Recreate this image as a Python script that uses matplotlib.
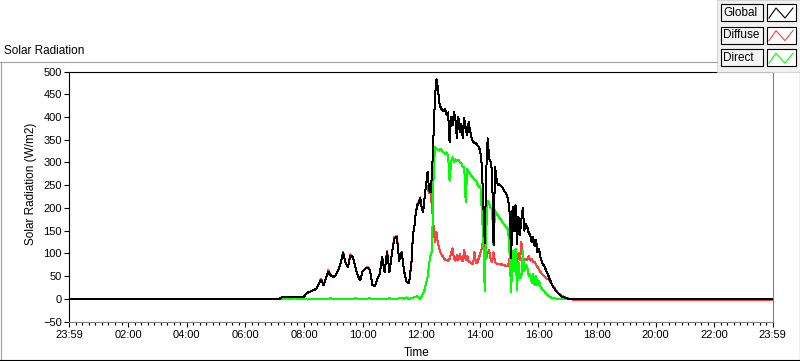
import numpy as np
import matplotlib
matplotlib.use('Agg')
import matplotlib.pyplot as plt
from matplotlib.patches import Rectangle
from matplotlib.lines import Line2D

plt.rcParams['font.family'] = ['Liberation Sans', 'DejaVu Sans']

# sample times in minutes after midnight
morning_min = np.arange(430, 701, 5)      # 07:10 .. 11:40
afternoon_min = np.arange(703, 1043, 3)   # 11:43 .. 17:22

global_morning = [0, 3, 4, 3, 4, 3, 4, 3, 5, 3,
                  5, 12, 15, 17, 19, 22, 32, 42, 30, 45,
                  60, 51, 48, 52, 62, 78, 100, 80, 70, 95,
                  92, 70, 51, 41, 60, 66, 68, 64, 30, 28,
                  43, 55, 91, 59, 103, 59, 100, 133, 136, 84,
                  102, 60, 37, 34, 80]
diffuse_morning = [0, 3, 4, 3, 4, 3, 4, 3, 5, 3,
                   5, 12, 15, 17, 19, 22, 32, 44, 30, 45,
                   63, 51, 48, 52, 62, 78, 103, 80, 70, 98,
                   92, 70, 51, 41, 60, 66, 70, 64, 30, 28,
                   43, 55, 93, 59, 105, 59, 100, 136, 138, 84,
                   104, 60, 37, 34, 78]
direct_morning = [0, 1, 0, 1, 0, 0, 1, 0, -1, 0,
                  0, -1, -1, 0, 0, -1, 0, -1, -1, 0,
                  0, 1, 0, -1, 0, 0, -1, 0, -1, 0,
                  0, 1, 0, -1, -1, 0, 0, 1, 0, -1,
                  0, 0, -1, -1, 0, 1, 0, 0, -1, 1,
                  2, 0, 3, -1, 2]

global_afternoon = [140, 160, 190, 206, 210, 221,
                    200, 191, 225, 250, 279, 240, 235, 272, 353, 440,
                    483, 465, 430, 420, 415, 412, 418, 405, 410, 345,
                    400, 382, 411, 395, 353, 400, 367, 385, 353, 397,
                    375, 360, 389, 370, 355, 345, 343, 342, 338, 334,
                    323, 294, 206, 122, 280, 353, 309, 301, 280, 118,
                    290, 265, 250, 252, 249, 245, 239, 234, 228, 217,
                    190, 89, 202, 150, 206, 120, 180, 140, 175, 199,
                    150, 165, 158, 145, 140, 125, 137, 115, 130, 102,
                    110, 92, 80, 75, 70, 60, 55, 45, 38, 30,
                    25, 20, 16, 12, 9, 6, 4, 3, 2, 1,
                    0, 0, 0, 0, 0, 0, 0, 0]
diffuse_afternoon = [142, 160, 190, 208, 212, 223,
                     200, 191, 225, 250, 245, 232, 238, 200, 160, 125,
                     147, 122, 110, 100, 95, 90, 86, 85, 84, 88,
                     100, 111, 88, 84, 96, 85, 98, 88, 82, 107,
                     85, 95, 82, 80, 78, 76, 103, 78, 80, 90,
                     100, 111, 133, 120, 90, 100, 107, 88, 80, 102,
                     80, 78, 76, 77, 75, 76, 74, 73, 72, 73,
                     90, 103, 95, 78, 90, 80, 100, 85, 125, 90,
                     85, 88, 85, 95, 84, 88, 80, 82, 75, 70,
                     65, 59, 55, 51, 48, 45, 43, 41, 36, 31,
                     26, 22, 17, 13, 10, 8, 6, 5, 3, 2,
                     1, 0, -1, -2, -3, -3, -3, -3]
direct_afternoon = [2, 5, 3, 6, 2, 0,
                    5, 12, 20, 35, 47, 76, 95, 106, 260, 333,
                    330, 328, 326, 330, 324, 322, 318, 322, 315, 260,
                    300, 311, 300, 307, 304, 306, 300, 298, 290, 289,
                    212, 285, 280, 275, 270, 267, 262, 260, 253, 245,
                    249, 194, 128, 18, 150, 216, 210, 201, 198, 118,
                    195, 188, 183, 178, 175, 169, 164, 160, 157, 150,
                    95, 14, 105, 60, 110, 20, 80, 45, 50, 105,
                    60, 75, 70, 50, 55, 35, 55, 30, 50, 30,
                    40, 28, 22, 18, 15, 10, 8, 5, 3, 2,
                    1, 1, 0, 0, 0, 0, 0, 0, 0, 0,
                    0, 0, 0, 0, 0, 0, 0, 0]

tick_minutes = [-1, 120, 240, 360, 480, 600, 720, 840, 960, 1080, 1200, 1320, 1439]
tick_labels = ['23:59', '02:00', '04:00', '06:00', '08:00', '10:00', '12:00',
               '14:00', '16:00', '18:00', '20:00', '22:00', '23:59']
y_ticks = [500, 450, 400, 350, 300, 250, 200, 150, 100, 50, 0, -50]

minutes = np.concatenate([[-1], morning_min, afternoon_min, [1439]])
global_rad = np.array([0] + global_morning + global_afternoon + [0])
diffuse_rad = np.array([0] + diffuse_morning + diffuse_afternoon + [-3])
direct_rad = np.array([0] + direct_morning + direct_afternoon + [0])

W, H = 800, 361


def fx(x):
    return x / W


def fy(y):
    return 1 - y / H


fig = plt.figure(figsize=(8, 3.61), dpi=100)
ax = fig.add_axes([fx(69), fy(321.5), 703.5 / W, 250 / H])

# LabVIEW draws thin, un-smoothed traces
ax.plot(minutes, diffuse_rad, color='#ff4040', lw=0.72, antialiased=False)
ax.plot(minutes, direct_rad, color='#00ff00', lw=0.72, antialiased=False)
ax.plot(minutes, global_rad, color='black', lw=0.72, antialiased=False)

ax.set_xlim(-1, 1439)
ax.set_ylim(-50, 500)
ax.set_xticks(tick_minutes)
ax.set_xticklabels(tick_labels)
minor = []
for a, b in zip(tick_minutes[:-1], tick_minutes[1:]):
    minor += [a + (b - a) * k / 9 for k in range(1, 9)]
ax.set_xticks(minor, minor=True)
ax.set_yticks(y_ticks)

ax.tick_params(axis='x', which='major', length=3.6, width=0.8, pad=2.5, labelsize=8)
ax.tick_params(axis='x', which='minor', length=2.2, width=0.8)
ax.tick_params(axis='y', length=3.6, width=0.8, pad=1.5, labelsize=8)

for s in ['left', 'top']:
    ax.spines[s].set_color('black')
    ax.spines[s].set_linewidth(0.8)
for s in ['right', 'bottom']:
    ax.spines[s].set_color('#808080')
    ax.spines[s].set_linewidth(0.8)

# panel frame
fig.add_artist(Line2D([fx(0.5), fx(0.5)], [fy(61.5), fy(360)], color='#a0a0a0', lw=0.8))
fig.add_artist(Line2D([fx(0), fx(717)], [fy(61.5), fy(61.5)], color='#a0a0a0', lw=0.8))
fig.add_artist(Line2D([fx(0), fx(800)], [fy(359.5), fy(359.5)], color='black', lw=0.8))
fig.add_artist(Line2D([fx(799.5), fx(799.5)], [fy(72), fy(360)], color='black', lw=0.8))

fig.text(fx(4), fy(51), 'Solar Radiation', ha='left', va='center', fontsize=8.5)
fig.text(fx(31), fy(184), 'Solar Radiation (W/m2)', rotation=90,
         ha='center', va='center', fontsize=8.5)
fig.text(fx(417), fy(353), 'Time', ha='center', va='center', fontsize=8.5)

# legend
fig.add_artist(Rectangle((fx(717), fy(72)), 83 / W, 72 / H, facecolor='#f0f0f0',
                         edgecolor='#d0d0d0', lw=0.6))
names = ['Global', 'Diffuse', 'Direct']
colors = ['black', '#ff4040', '#00ff00']
for i, (name, c) in enumerate(zip(names, colors)):
    top = 4 + 22.6 * i
    fig.add_artist(Rectangle((fx(721), fy(top + 17)), 42 / W, 17 / H,
                             facecolor='#f4f4f4', edgecolor='black', lw=0.8))
    fig.text(fx(723), fy(top + 8.5), name, ha='left', va='center', fontsize=8.5)
    fig.add_artist(Rectangle((fx(767), fy(top + 17)), 29 / W, 17 / H,
                             facecolor='white', edgecolor='black', lw=0.8))
    fig.add_artist(Line2D([fx(769), fx(776), fx(785), fx(793)],
                          [fy(top + 14), fy(top + 4), fy(top + 14), fy(top + 4)],
                          color=c, lw=0.8))

fig.savefig('out.png', dpi=100)
